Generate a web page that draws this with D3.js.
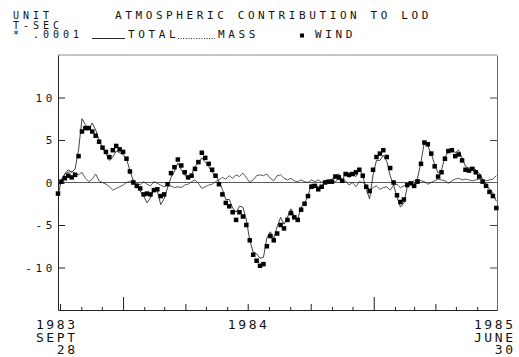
<!DOCTYPE html>
<html>
<head>
<meta charset="utf-8">
<script src="https://cdn.jsdelivr.net/npm/d3@7"></script>
<style>
  body { margin: 0; background: #fff; }
  svg { display: block; }
  .txt { font-family: "DejaVu Sans Mono", monospace; font-size: 11px; fill: #111; letter-spacing: 3.6px; }
  .hd { font-size: 10px; letter-spacing: 4px; }
  .xl { font-size: 13px; letter-spacing: 2.6px; }
</style>
</head>
<body>
<div id="chart"></div>
<script>
// series sampled every 5 days from 1983 Sept 28
const startDate = new Date(1983, 8, 28);
const endDate = new Date(1985, 5, 30);
const stepDays = 5;

const wind = [-1.3, 0.1, 0.5, 0.8, 0.6, 0.9, 3.1, 6.0, 6.4, 6.4,
  6.0, 5.5, 4.8, 4.1, 3.6, 3.0, 3.8, 4.3, 3.9, 3.6,
  2.8, 1.3, 0.0, -0.4, -0.7, -1.4, -1.3, -1.4, -0.9, -0.8,
  -1.6, -1.4, -0.2, 1.1, 1.8, 2.7, 2.0, 1.2, 0.6, 0.8,
  1.6, 2.4, 3.5, 2.9, 2.2, 1.5, 0.8, -0.2, -1.4, -2.4,
  -2.8, -3.5, -4.4, -3.5, -4.0, -5.0, -6.8, -8.5, -9.2, -9.8,
  -9.6, -7.5, -6.3, -6.8, -6.0, -5.0, -5.4, -4.4, -3.6, -4.1,
  -4.4, -3.2, -2.5, -1.6, -0.5, -0.4, -0.8, -0.5, 0.0, 0.1,
  0.1, 0.7, 0.6, 0.2, 1.0, 0.9, 1.0, 1.2, 1.5, 0.8,
  -0.5, -1.0, 1.5, 3.0, 3.4, 3.8, 3.0, 1.7, 0.0, -1.5,
  -2.3, -2.0, -0.3, -0.1, -0.4, 0.1, 2.2, 4.7, 4.5, 3.4,
  1.9, 0.7, 1.2, 2.8, 3.7, 3.8, 3.1, 3.3, 2.6, 1.5,
  1.4, 1.6, 1.2, 0.7, 0.1, -0.4, -1.1, -1.6, -3.0];

const mass = [-0.5, 0.3, 1.0, 1.2, 1.3, 1.1, 0.9, 1.2, 0.5, 0.1,
  0.4, 1.0, 0.2, 0.0, -0.2, -0.5, -0.9, -0.7, -0.5, -0.3,
  0.0, 0.1, 0.3, -0.1, -0.3, 0.1, -0.2, -0.4, 0.1, -0.1,
  -0.3, -0.5, -0.3, -0.4, -0.6, -0.5, -0.6, -0.3, -0.2, 0.1,
  0.3, -0.1, -0.7, -0.5, -0.3, -0.2, 0.1, 0.3, 0.6, 0.4,
  0.8, 0.5, 0.9, 0.7, 1.1, 0.6, 0.0, 0.3, 0.8, 0.9,
  0.8, 1.0, 0.5, 0.2, 0.8, 0.9, 0.5, 0.3, 0.5, 0.2,
  0.1, 0.3, 0.1, 0.0, 0.3, 0.1, 0.3, 0.0, 0.2, -0.1,
  0.3, 0.1, 0.4, 0.0, 0.2, -0.3, 0.0, -0.5, 0.1, 0.0,
  -0.3, -0.9, -0.6, -0.4, -0.8, -0.6, -0.5, -0.9, -0.3, -0.2,
  -0.6, -0.4, -0.2, 0.0, 0.2, 0.4, 0.2, 0.1, -0.2, 0.0,
  0.2, 0.4, 0.3, 0.2, -0.1, 0.2, 0.4, 0.5, 0.3, 0.4,
  0.3, 0.2, 0.3, 0.4, 0.3, 0.2, 0.3, 0.4, 0.8];

const total = [-1.6, 0.3, 1.0, 1.5, 1.2, 1.6, 3.8, 7.5, 6.8, 6.3,
  7.0, 6.2, 5.0, 4.0, 3.4, 2.6, 3.0, 3.7, 3.5, 3.3,
  2.8, 1.4, 0.2, -0.5, -1.0, -1.6, -2.4, -1.8, -0.8, -1.0,
  -2.6, -1.9, -0.6, 0.6, 1.3, 2.3, 1.5, 0.9, 0.4, 0.9,
  1.9, 2.3, 2.9, 2.4, 1.9, 1.2, 0.9, 0.1, -0.8, -2.0,
  -2.0, -3.0, -3.5, -2.8, -2.9, -4.4, -6.8, -8.2, -8.4, -8.9,
  -8.8, -6.5, -5.8, -6.6, -5.2, -4.1, -4.9, -4.1, -3.1, -3.9,
  -4.3, -2.9, -2.4, -1.6, -0.2, -0.3, -0.5, -0.5, 0.2, 0.0,
  0.4, 0.8, 1.0, 0.2, 1.2, 0.6, 1.0, 0.7, 1.6, 0.8,
  -0.8, -1.9, 0.9, 2.6, 2.6, 3.2, 2.5, 0.8, -0.3, -1.7,
  -2.9, -2.4, -0.5, -0.1, -0.2, 0.5, 2.4, 4.8, 4.3, 3.4,
  2.1, 1.1, 1.5, 3.0, 3.6, 4.0, 3.5, 3.8, 2.9, 1.9,
  1.7, 1.8, 1.5, 1.1, 0.4, -0.2, -0.8, -1.2, -2.2];

const yTicks = [-10, -5, 0, 5, 10];
const xLabelDates = [startDate, new Date(1984, 6, 1), endDate];
const xLabelLines = [["1983", "SEPT", "28"], ["1984"], ["1985", "JUNE", "30"]];
const headerLines = ["UNIT", "T-SEC", "* .0001"];
const title = "ATMOSPHERIC CONTRIBUTION TO LOD";

const width = 519, height = 357;
const margin = {top: 55, right: 22, bottom: 47, left: 58};

const dates = wind.map((_, i) => d3.timeDay.offset(startDate, i * stepDays));

const svg = d3.select("#chart").append("svg")
  .attr("width", width)
  .attr("height", height);

const x = d3.scaleTime()
  .domain([startDate, endDate])
  .range([margin.left, width - margin.right]);

const y = d3.scaleLinear()
  .domain([-15, 15])
  .range([height - margin.bottom, margin.top]);

// frame top edge
svg.append("line")
  .attr("x1", x.range()[0]).attr("x2", x.range()[1])
  .attr("y1", y(15)).attr("y2", y(15))
  .attr("stroke", "#8a8a8a").attr("stroke-width", 1);

// left axis, ticks pointing into the plot
const gy = svg.append("g")
  .attr("transform", "translate(" + x.range()[0] + ",0)")
  .call(d3.axisLeft(y).tickValues(yTicks).tickSizeInner(-7).tickSizeOuter(0)
    .tickPadding(2).tickFormat(d => d < 0 ? "-" + Math.abs(d) : String(d)));
gy.select(".domain").attr("stroke", "#222");
gy.selectAll(".tick line").attr("stroke", "#222");
gy.selectAll(".tick text").attr("class", "txt").attr("fill", null).style("font-size", "11px");

// right axis
const gr = svg.append("g")
  .attr("transform", "translate(" + x.range()[1] + ",0)")
  .call(d3.axisRight(y).tickValues(yTicks.filter(d => d !== 0)).tickSizeInner(-7).tickSizeOuter(0).tickFormat(""));
gr.select(".domain").attr("stroke", "#444").attr("stroke-width", 0.8);
gr.selectAll(".tick line").attr("stroke", "#444");

// bottom axis: monthly ticks, taller at quarters and at new year
const gx = svg.append("g")
  .attr("transform", "translate(0," + y(-15) + ")")
  .call(d3.axisBottom(x).ticks(d3.timeMonth.every(1)).tickSizeInner(-3).tickSizeOuter(0).tickFormat(""));
gx.select(".domain").attr("stroke", "#222");
gx.selectAll(".tick line")
  .attr("stroke", "#222")
  .attr("y2", d => d.getMonth() === 0 ? -13 : (d.getMonth() % 3 === 0 ? -6 : -3));

// zero line
svg.append("line")
  .attr("x1", x.range()[0]).attr("x2", x.range()[1])
  .attr("y1", y(0)).attr("y2", y(0))
  .attr("stroke", "#333").attr("stroke-width", 0.8);

// x labels
const anchors = ["end", "middle", "end"];
const dxs = [17 + 2.6, 1, 16 + 2.6];
xLabelDates.forEach((d, i) => {
  const t = svg.append("text")
    .attr("class", "txt xl")
    .attr("text-anchor", anchors[i]);
  xLabelLines[i].forEach((s, j) => {
    t.append("tspan")
      .attr("x", x(d) + dxs[i])
      .attr("y", 329 + j * 12.6)
      .text(s);
  });
});

const line = d3.line()
  .x((d, i) => x(dates[i]))
  .y(d => y(d));

svg.append("path")
  .datum(mass)
  .attr("fill", "none")
  .attr("stroke", "#111")
  .attr("stroke-width", 0.7)
  .attr("d", line);

svg.append("path")
  .datum(total)
  .attr("fill", "none")
  .attr("stroke", "#111")
  .attr("stroke-width", 0.8)
  .attr("d", line);

svg.selectAll(".wind")
  .data(wind)
  .enter()
  .append("rect")
  .attr("class", "wind")
  .attr("x", (d, i) => x(dates[i]) - 2.25)
  .attr("y", d => y(d) - 2.25)
  .attr("width", 4.5)
  .attr("height", 4.5)
  .attr("fill", "#000");

// header
svg.append("text").attr("class", "txt").attr("x", 115).attr("y", 19).text(title);
headerLines.forEach((s, i) => {
  svg.append("text").attr("class", "txt hd").attr("x", 13).attr("y", 19 + i * 9.7).text(s);
});

// legend
svg.append("line")
  .attr("x1", 92).attr("x2", 125).attr("y1", 38.5).attr("y2", 38.5)
  .attr("stroke", "#111").attr("stroke-width", 0.9);
svg.append("text").attr("class", "txt").attr("x", 128).attr("y", 38.4).text("TOTAL");
svg.append("line")
  .attr("x1", 178).attr("x2", 215).attr("y1", 38.5).attr("y2", 38.5)
  .attr("stroke", "#111").attr("stroke-width", 0.9).attr("stroke-dasharray", "1,1.6");
svg.append("text").attr("class", "txt").attr("x", 218).attr("y", 38.4).text("MASS");
svg.append("rect")
  .attr("x", 300).attr("y", 33.5).attr("width", 4).attr("height", 4).attr("fill", "#000");
svg.append("text").attr("class", "txt").attr("x", 315).attr("y", 38.4).text("WIND");
</script>
</body>
</html>
